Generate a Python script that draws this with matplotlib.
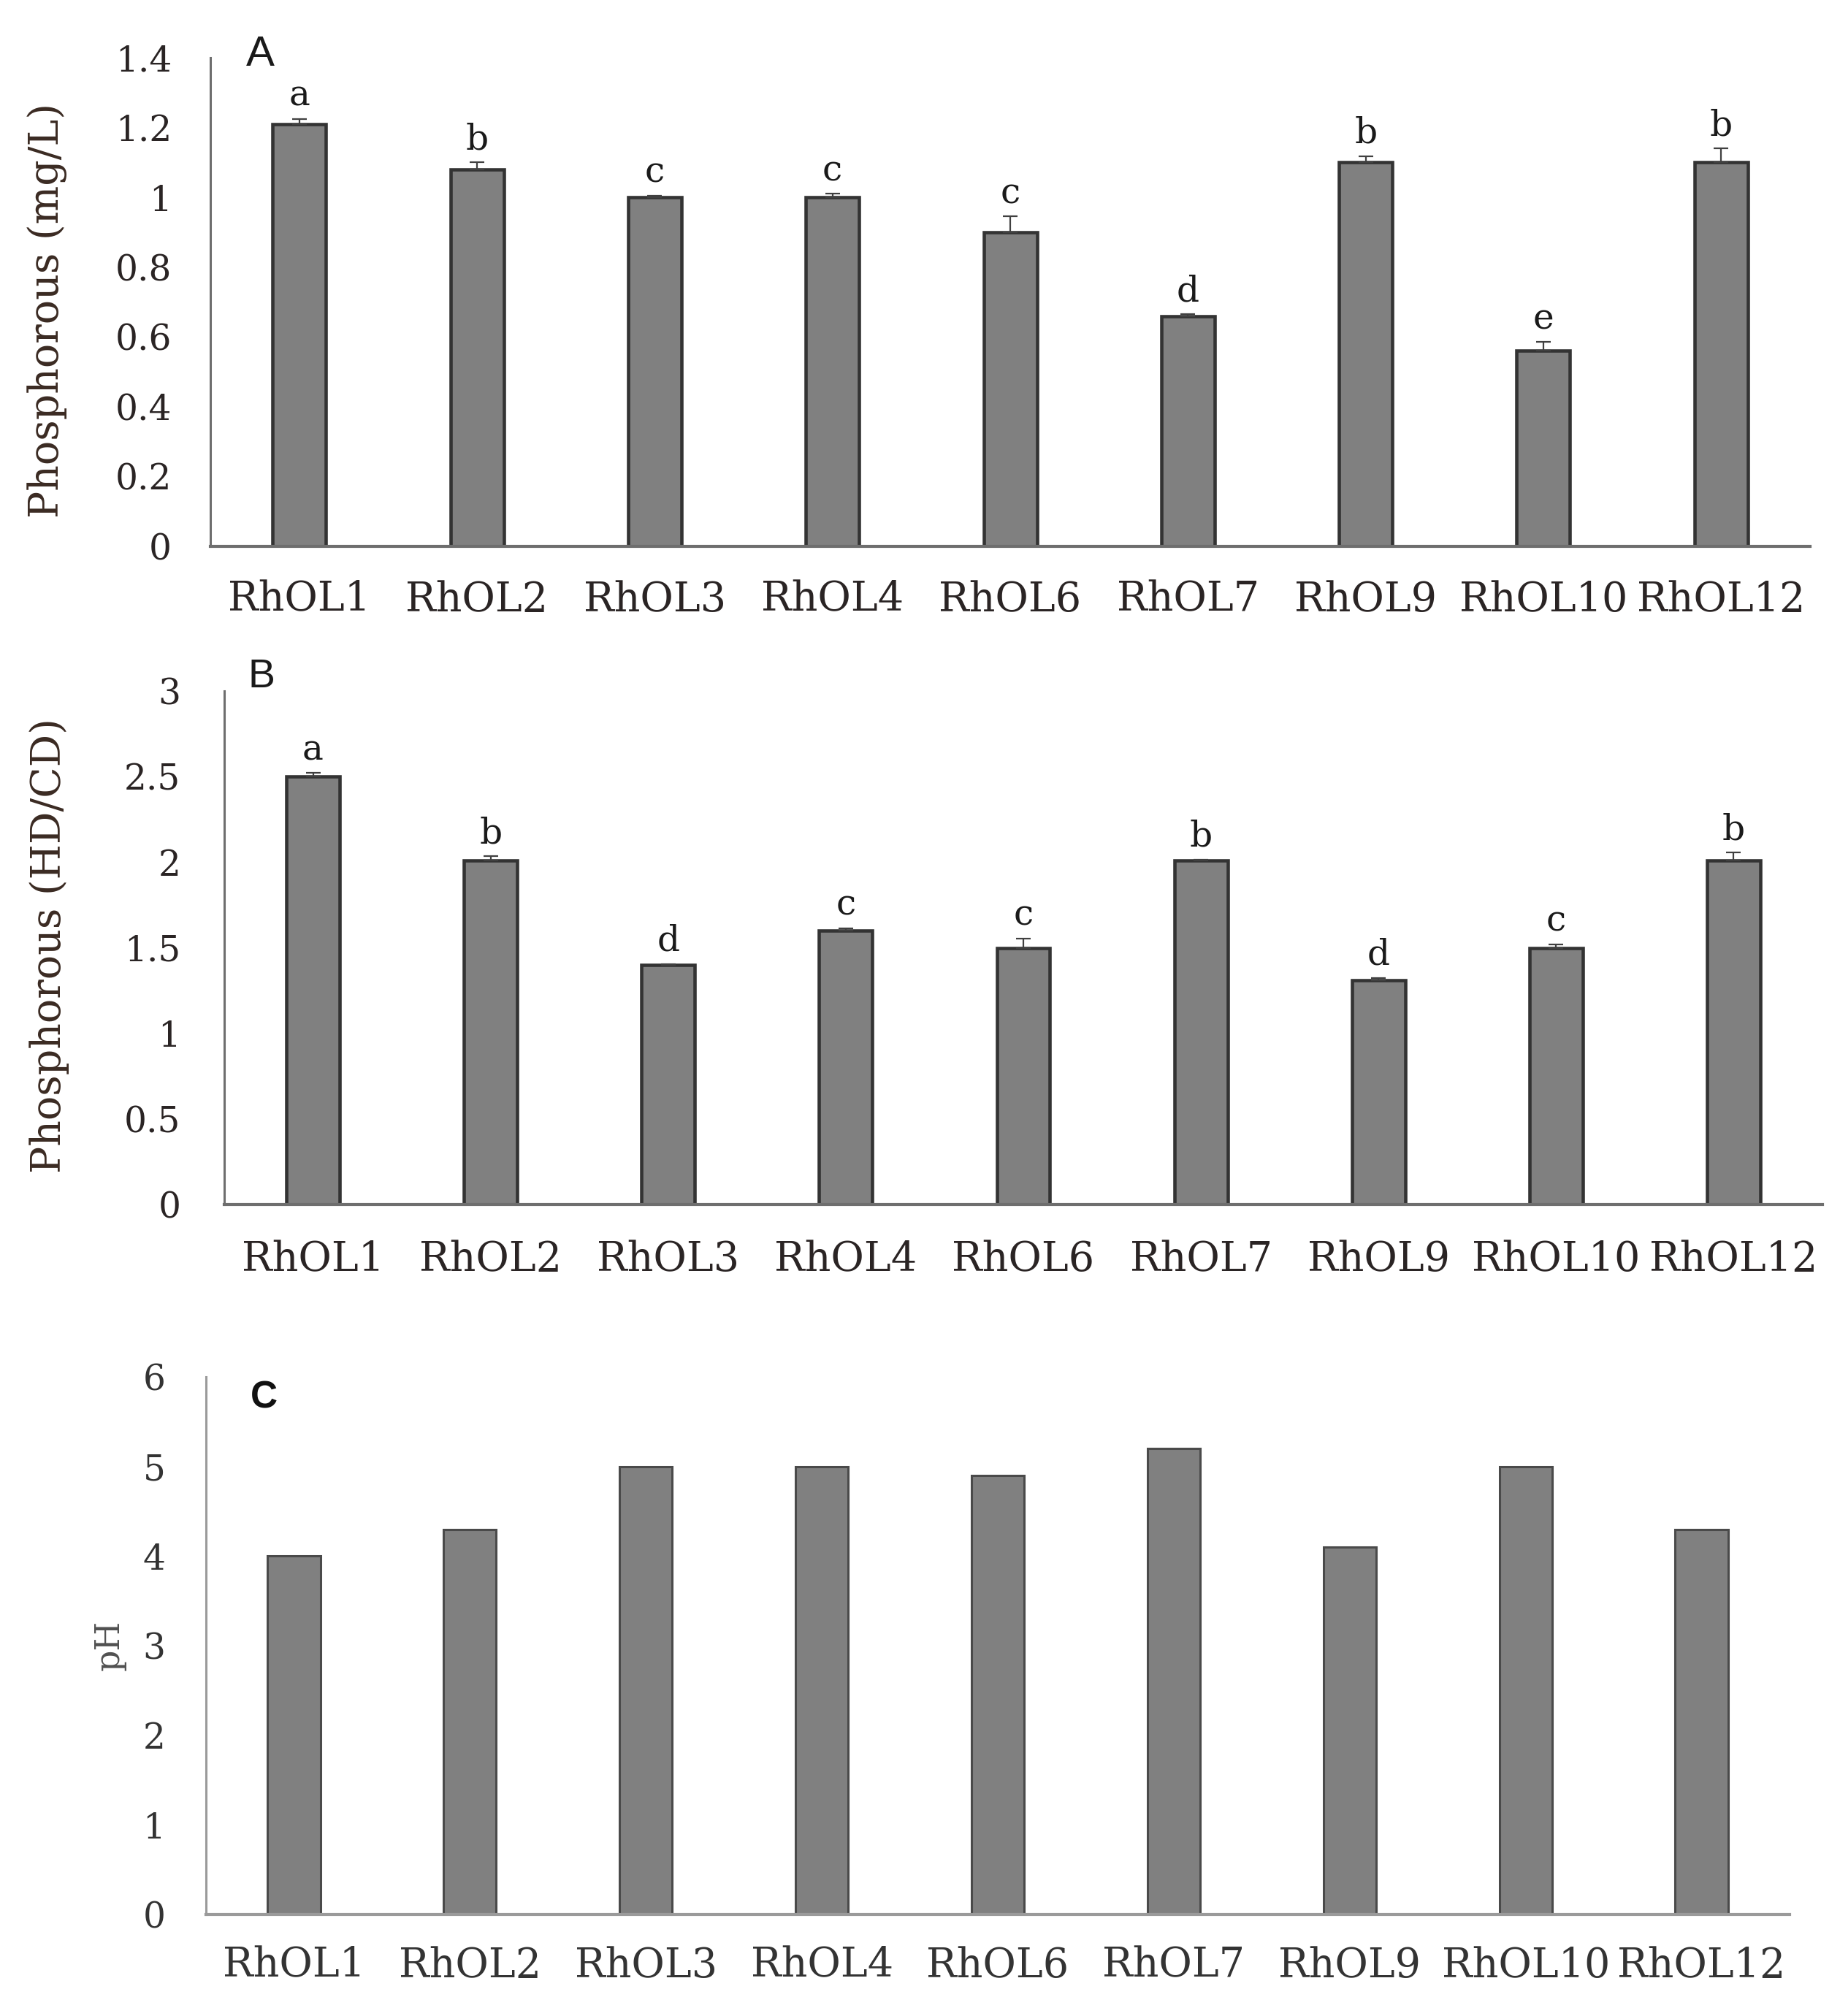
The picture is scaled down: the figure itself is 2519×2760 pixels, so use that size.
import numpy as np
import matplotlib
matplotlib.use("Agg")
import matplotlib.pyplot as plt

# data
categories = ['RhOL1', 'RhOL2', 'RhOL3', 'RhOL4', 'RhOL6', 'RhOL7', 'RhOL9', 'RhOL10', 'RhOL12']

p_mgl = [1.21, 1.08, 1.00, 1.00, 0.90, 0.66, 1.10, 0.56, 1.10]
p_mgl_err = [0.015, 0.02, 0.005, 0.01, 0.045, 0.005, 0.018, 0.025, 0.04]
p_mgl_letters = ['a', 'b', 'c', 'c', 'c', 'd', 'b', 'e', 'b']

p_ratio = [2.50, 2.01, 1.40, 1.60, 1.50, 2.01, 1.31, 1.50, 2.01]
p_ratio_err = [0.02, 0.025, 0.005, 0.015, 0.055, 0.005, 0.015, 0.02, 0.045]
p_ratio_letters = ['a', 'b', 'd', 'c', 'c', 'b', 'd', 'c', 'b']

ph = [4.0, 4.3, 5.0, 5.0, 4.9, 5.2, 4.1, 5.0, 4.3]

W, H = 2519, 2760
DPI = 100
fig = plt.figure(figsize=(W / DPI, H / DPI), dpi=DPI)
fig.patch.set_facecolor('white')

SERIF = 'DejaVu Serif'
TXT = '#2a2424'


def px_axes(left, top, right, bottom):
    # pixel box -> figure fraction
    return fig.add_axes([left / W, 1 - bottom / H, (right - left) / W, (bottom - top) / H])


def style(ax, ymax, yticks, ylabels, ypad, xpad, spine_col, spine_lw, tcol):
    ax.set_xlim(-0.5, len(categories) - 0.5)
    ax.set_ylim(0, ymax)
    ax.set_yticks(yticks)
    ax.set_yticklabels(ylabels)
    ax.set_xticks(np.arange(len(categories)))
    ax.set_xticklabels(categories)
    for s in ('top', 'right'):
        ax.spines[s].set_visible(False)
    ax.spines['left'].set_color(spine_col)
    ax.spines['left'].set_linewidth(spine_lw)
    ax.spines['bottom'].set_color(spine_col)
    ax.spines['bottom'].set_linewidth(spine_lw + 0.8)
    ax.tick_params(axis='y', length=0, pad=ypad, labelsize=35, labelcolor=tcol)
    ax.tick_params(axis='x', length=0, pad=xpad, labelsize=40, labelcolor=tcol)
    for lab in ax.get_xticklabels() + ax.get_yticklabels():
        lab.set_family(SERIF)


x = np.arange(len(categories))

# ---- panel A
axA = px_axes(288, 79, 2478, 748)
axA.bar(x, p_mgl, width=0.30, color='#808080', edgecolor='#333333', linewidth=3.3, zorder=2)
axA.errorbar(x, p_mgl, yerr=[np.zeros(len(x)), p_mgl_err], fmt='none',
             ecolor='#404040', elinewidth=1.6, capsize=7, capthick=1.6, zorder=3)
for xi, v, e, t in zip(x, p_mgl, p_mgl_err, p_mgl_letters):
    axA.annotate(t, (xi, v + e), xytext=(0, 13), textcoords='offset points',
                 ha='center', va='baseline', fontsize=35, family=SERIF, color='#1a1a1a')
style(axA, 1.4, [0, 0.2, 0.4, 0.6, 0.8, 1.0, 1.2, 1.4],
      ['0', '0.2', '0.4', '0.6', '0.8', '1', '1.2', '1.4'], 38, 33, '#6e6e6e', 2.2, TXT)
fig.text(65 / W, 1 - 425 / H, 'Phosphorous (mg/L)', rotation=90, ha='center', va='center',
         fontsize=40, family=SERIF, color='#3a2a22')
fig.text(337 / W, 1 - 90 / H, 'A', ha='left', va='baseline', fontsize=42,
         family='Liberation Sans', color='#1a1a1a')

# ---- panel B
axB = px_axes(307, 946, 2495, 1649)
axB.bar(x, p_ratio, width=0.30, color='#808080', edgecolor='#333333', linewidth=3.3, zorder=2)
axB.errorbar(x, p_ratio, yerr=[np.zeros(len(x)), p_ratio_err], fmt='none',
             ecolor='#404040', elinewidth=1.6, capsize=7, capthick=1.6, zorder=3)
for xi, v, e, t in zip(x, p_ratio, p_ratio_err, p_ratio_letters):
    axB.annotate(t, (xi, v + e), xytext=(0, 13), textcoords='offset points',
                 ha='center', va='baseline', fontsize=35, family=SERIF, color='#1a1a1a')
style(axB, 3, [0, 0.5, 1, 1.5, 2, 2.5, 3],
      ['0', '0.5', '1', '1.5', '2', '2.5', '3'], 43, 35, '#6e6e6e', 2.2, TXT)
fig.text(68 / W, 1 - 1295 / H, 'Phosphorous (HD/CD)', rotation=90, ha='center', va='center',
         fontsize=40, family=SERIF, color='#3a2a22')
fig.text(340 / W, 1 - 941 / H, 'B', ha='left', va='baseline', fontsize=40,
         family='Liberation Sans', color='#1a1a1a')

# ---- panel C
axC = px_axes(282, 1885, 2450, 2621)
axC.bar(x, ph, width=0.30, color='#808080', edgecolor='#4a4a4a', linewidth=2.2, zorder=2)
style(axC, 6, [0, 1, 2, 3, 4, 5, 6],
      ['0', '1', '2', '3', '4', '5', '6'], 40, 31, '#9a9a9a', 2.2, '#333333')
fig.text(150 / W, 1 - 2252 / H, 'pH', rotation=90, ha='center', va='center',
         fontsize=33, family=SERIF, color='#505050')
fig.text(343 / W, 1 - 1928 / H, 'C', ha='left', va='baseline', fontsize=37,
         family='Liberation Sans', weight='bold', color='#111111')

fig.savefig('out.png', dpi=DPI, facecolor='white')
